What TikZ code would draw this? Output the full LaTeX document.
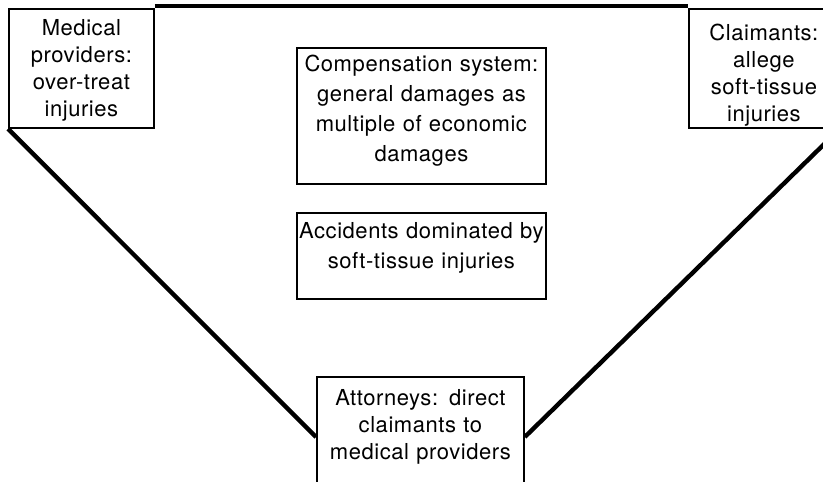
\documentclass[tikz,border=0pt]{standalone}
\usepackage{fontspec}
\setmainfont{TeX Gyre Heros}[LetterSpace=2.5]
\usetikzlibrary{calc}

\begin{document}
\begin{tikzpicture}[x=1pt, y=-1pt,
    panel/.style={draw, line width=1.8pt, inner sep=0pt, anchor=north west, align=center,
      font=\fontsize{22}{27}\selectfont},
    tall/.style={font=\fontsize{22}{30}\selectfont},
    ridge/.style={line width=4.4pt}
  ]
  \useasboundingbox (0,0) rectangle (823,482);
  \clip (0,0) rectangle (823,482);

  \node[panel, text width=145pt, text height=26.5pt, text depth=92.5pt] (medical) at (8,8)
    {Medical\\providers:\\over-treat\\injuries};
  \node[panel, text width=150pt, text height=31.5pt, text depth=87.5pt] (claimants) at (688,8)
    {Claimants:\\allege\\soft-tissue\\injuries};
  \node[panel, tall, text width=249pt, text height=23.5pt, text depth=112.5pt] (system) at (296,47)
    {Compensation system:\\general damages as\\multiple of economic\\damages};
  \node[panel, tall, text width=249pt, text height=25.5pt, text depth=60.5pt] (accidents) at (296,212)
    {Accidents dominated by\\soft-tissue injuries};
  \node[panel, text width=207pt, text height=28.5pt, text depth=90pt] (attorneys) at (316,376)
    {Attorneys: direct\\claimants to\\medical providers};

  % triangle of referrals
  \draw[ridge] ([yshift=2pt]medical.north east) -- ([yshift=2pt]claimants.north west);
  \draw[ridge] (medical.south west) -- ([yshift=-61pt]attorneys.north west);
  \draw[ridge] ([yshift=-61pt]attorneys.north east) -- (claimants.south east);
\end{tikzpicture}
\end{document}
